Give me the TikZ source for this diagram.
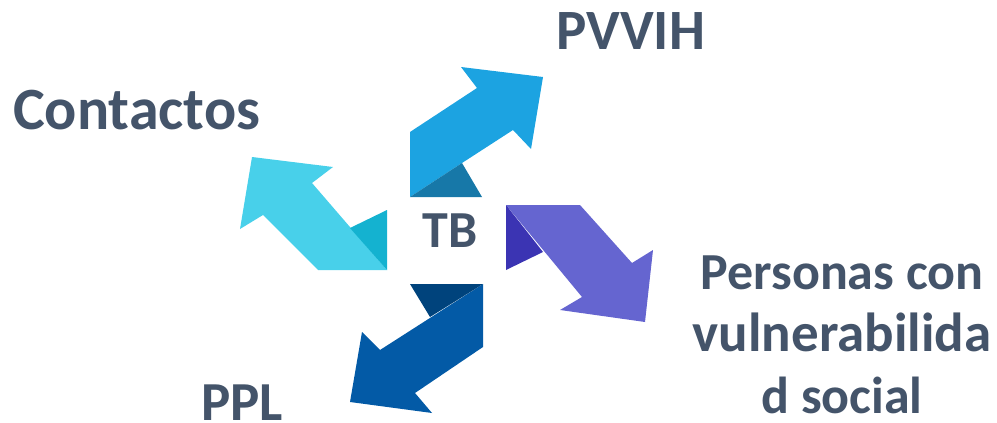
\documentclass[tikz,border=0pt]{standalone}
\usepackage{fontspec}
\setmainfont{Carlito}
\usepackage{xcolor}
\usepackage{tikz}
\usetikzlibrary{positioning}

\definecolor{slate}{HTML}{44546A}
\definecolor{blue1}{HTML}{1CA3E1}
\definecolor{blue1dk}{HTML}{1778A8}
\definecolor{cyan1}{HTML}{48D0EA}
\definecolor{cyan1dk}{HTML}{14B2D0}
\definecolor{violet1}{HTML}{6565D0}
\definecolor{violet1dk}{HTML}{3B34B3}
\definecolor{navy1}{HTML}{035AA6}
\definecolor{navy1dk}{HTML}{00437C}

\begin{document}
\begin{tikzpicture}[
    x=1pt, y=-1pt,
    txt/.style={font=\fontsize{52}{62}\selectfont\bfseries, text=slate, inner sep=0pt, align=center},
    arr1/.style={fill=blue1}, fold1/.style={fill=blue1dk},
    arr2/.style={fill=cyan1}, fold2/.style={fill=cyan1dk},
    arr3/.style={fill=violet1}, fold3/.style={fill=violet1dk},
    arr4/.style={fill=navy1}, fold4/.style={fill=navy1dk}
]
    \useasboundingbox (0,0) rectangle (997,423);

    % up-right ribbon
    \fill [arr1] (410,197) -- (410,132) -- (477,88) -- (461,67) -- (543,77) -- (531,149) -- (513,130) -- (462,163) -- cycle;
    \fill [fold1] (410,197) -- (462,163) -- (482,197) -- cycle;

    % up-left ribbon
    \fill [arr2] (387,270) -- (318,270) -- (263,215) -- (240,229) -- (252,157) -- (333,167) -- (312,183) -- cycle;
    \fill [fold2] (387,210) -- (350,228) -- (387,270) -- cycle;

    % down-right ribbon
    \fill [arr3] (506,205) -- (580,205) -- (632,263) -- (653,250) -- (645,322) -- (560,310) -- (582,297) -- cycle;
    \fill [fold3] (506,205) -- (543,252) -- (506,270) -- cycle;

    % down-left ribbon
    \fill [arr4] (483,284) -- (483,347) -- (415,393) -- (432,413) -- (350,402) -- (362,332) -- (380,350) -- cycle;
    \fill [fold4] (410,284) -- (483,284) -- (430,317) -- cycle;

    \node [txt, anchor=base] (tb) at (450,247) {TB};
    \node [txt, anchor=base west, font=\fontsize{57}{62}\selectfont\bfseries] (pvvih) at (556,49) {PVVIH};
    \node [txt, anchor=base west, font=\fontsize{60}{62}\selectfont\bfseries] (contactos) at (13,129) {Contactos};
    \node [txt, anchor=base west, font=\fontsize{55}{62}\selectfont\bfseries] (ppl) at (201,420) {PPL};
    \node [txt, anchor=center] (vuln) at (842,335)
        {Personas con\\{\fontsize{55}{62}\selectfont vulnerabilida}\\d social};
\end{tikzpicture}
\end{document}
